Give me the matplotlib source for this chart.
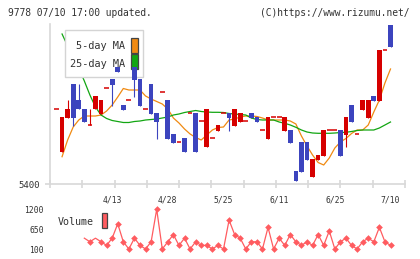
import matplotlib.pyplot as plt
import matplotlib.patches as mpatches
import numpy as np

# daily candles, oldest first (yen)
OPENS = [6150, 5720, 6060, 6400, 6240, 6150, 5990, 6150, 6100, 6360,
         6450, 6570, 6190, 6240, 6570, 6450, 6150, 6400, 6110, 6320,
         6240, 5900, 5820, 5860, 6110, 6110, 6030, 5770, 5860, 5930,
         6110, 6110, 5980, 6020, 6030, 6110, 6070, 5940, 5850, 6070,
         6070, 5930, 5940, 5530, 5820, 5820, 5470, 5640, 5680, 5940,
         5940, 5940, 5890, 6190, 5900, 6140, 6060, 6280, 6230, 6740,
         6990]
HIGHS = [6150, 6070, 6240, 6400, 6400, 6150, 6150, 6280, 6240, 6360,
         6450, 6570, 6190, 6240, 6570, 6450, 6150, 6400, 6110, 6320,
         6240, 5900, 5820, 5860, 6110, 6110, 6030, 6150, 5860, 5990,
         6110, 6110, 6150, 6110, 6030, 6110, 6070, 5940, 6070, 6070,
         6070, 6070, 5940, 5530, 5820, 5820, 5650, 5690, 5940, 5940,
         5940, 5940, 6070, 6190, 5900, 6240, 6240, 6280, 6740, 6740,
         6990]
LOWS = [6150, 5720, 6060, 5980, 6150, 6020, 5990, 6150, 6100, 6360,
        6180, 6520, 6140, 6240, 6270, 6180, 6150, 6100, 5850, 6320,
        5850, 5810, 5820, 5720, 6110, 5720, 6030, 5770, 5860, 5930,
        6110, 5930, 5980, 6020, 6030, 6060, 6020, 5940, 5850, 6070,
        6070, 5930, 5810, 5430, 5520, 5640, 5470, 5640, 5680, 5940,
        5940, 5680, 5770, 6020, 5900, 6140, 6060, 6230, 6230, 6740,
        6770]
CLOSES = [6150, 6070, 6150, 6060, 6150, 6020, 5990, 6280, 6240, 6360,
          6390, 6520, 6140, 6240, 6440, 6180, 6150, 6100, 6020, 6320,
          5850, 5810, 5820, 5720, 6110, 5720, 6030, 6150, 5860, 5990,
          6110, 6060, 6150, 6110, 6030, 6060, 6020, 5940, 6070, 6070,
          6070, 6070, 5810, 5430, 5520, 5640, 5650, 5690, 5940, 5940,
          5940, 5680, 6070, 6020, 5900, 6240, 6240, 6230, 6740, 6740,
          6770]

# moving averages as drawn (from the 2nd candle on)
MA5 = [5673, 5840, 5970, 6040, 6080, 6080, 6080, 6090, 6130, 6190,
       6270, 6355, 6340, 6340, 6340, 6280, 6250, 6225, 6200, 6150,
       6060, 6010, 5950, 5900, 5865, 5840, 5890, 5940, 5965, 5970,
       6040, 6050, 6070, 6080, 6080, 6075, 6060, 6040, 6040, 6040,
       6040, 6030, 6000, 5880, 5780, 5690, 5615, 5590, 5660, 5760,
       5820, 5855, 5905, 5940, 5940, 5990, 6120, 6240, 6410, 6550]
MA25 = [6900, 6780, 6660, 6560, 6430, 6290, 6170, 6090, 6055, 6035,
        6025, 6015, 6015, 6025, 6030, 6040, 6045, 6050, 6060, 6070,
        6090, 6100, 6115, 6125, 6135, 6125, 6120, 6117, 6117, 6115,
        6105, 6100, 6095, 6090, 6060, 6045, 6040, 6040, 6040, 6020,
        6007, 5990, 5967, 5940, 5920, 5910, 5907, 5907, 5907, 5910,
        5915, 5917, 5925, 5935, 5940, 5940, 5940, 5960, 5990, 6020]

# volume (from the 6th candle on)
VOLUME = [400, 300, 400, 300, 200, 400, 800, 300, 100, 400,
          200, 100, 300, 1200, 100, 300, 500, 200, 400, 100,
          300, 200, 200, 100, 200, 100, 900, 500, 400, 100,
          300, 300, 100, 700, 100, 400, 200, 500, 300, 200,
          300, 200, 500, 200, 600, 100, 300, 400, 200, 100,
          300, 400, 300, 700, 300, 200]

DATE_POS = [10, 20, 30, 40, 50, 60]
DATE_LABELS = ["4/13", "4/28", "5/25", "6/11", "6/25", "7/10"]

RED = "#d60000"
BLUE = "#3c44be"
ORANGE = "#f08a12"
GREEN = "#12a612"
VOLC = "#ff5c60"
GRID = "#d8d8d8"
TXT = "#333333"

W, H = 420, 259
STEP = 5.567
plt.rcParams["font.family"] = "DejaVu Sans Mono"

fig = plt.figure(figsize=(W / 100, H / 100), dpi=100)
tf = fig.transFigure


def fpx(x, y):
    return x / W, 1 - y / H


ax = fig.add_axes([50 / W, 75 / H, 355 / W, 160 / H])
xlim = (-6.5 / STEP, 60 + 14.5 / STEP)
ax.set_xlim(xlim)
ax.set_ylim(5400, 7000)

x = np.arange(len(OPENS))
o = np.array(OPENS)
c = np.array(CLOSES)
cols = np.where(c >= o, RED, BLUE)
body = np.abs(c - o)
doji = body == 0

ax.vlines(x, LOWS, HIGHS, colors=cols, lw=0.8, zorder=4)
ax.bar(x[~doji], body[~doji], bottom=np.minimum(o, c)[~doji], width=0.85,
       color=cols[~doji], linewidth=0, zorder=4)
ax.hlines(o[doji], x[doji] - 0.43, x[doji] + 0.43, colors=RED, lw=1.1, zorder=4)

ax.plot(x[1:], MA5, color=ORANGE, lw=0.9, zorder=2)
ax.plot(x[1:], MA25, color=GREEN, lw=0.9, zorder=2)

for s in ["top", "right"]:
    ax.spines[s].set_visible(False)
for s in ["left", "bottom"]:
    ax.spines[s].set_color(GRID)
    ax.spines[s].set_linewidth(1.2)

ax.set_yticks([5400])
ax.tick_params(axis="y", length=3.6, width=1.2, color=GRID, pad=3.5,
               labelsize=6.5, labelcolor=TXT)
ax.set_xticks(DATE_POS, DATE_LABELS)
ax.set_xticks(np.linspace(xlim[0], xlim[1], 12), minor=True)
ax.tick_params(axis="x", which="major", length=0, pad=8, labelsize=5.8,
               labelcolor=TXT)
ax.tick_params(axis="x", which="minor", direction="inout", length=6,
               width=1.2, color=GRID)

# legend box (drawn under the candles, over the lines)
ax.add_patch(mpatches.Rectangle(fpx(65, 77), 78 / W, 46.7 / H, transform=tf,
                                facecolor="white", edgecolor="#d4d4d4",
                                lw=1, zorder=3, clip_on=False))
for label, color, ty, py in [("5-day MA", ORANGE, 46, 52.7),
                             ("25-day MA", GREEN, 63.7, 68.7)]:
    ax.text(*fpx(125, ty), label, transform=tf, ha="right", va="center",
            fontsize=7.4, color=TXT, zorder=3.1)
    ax.add_patch(mpatches.Rectangle(fpx(131, py), 6.7 / W, 15 / H,
                                    transform=tf, facecolor=color,
                                    edgecolor="#444444", lw=0.9,
                                    zorder=3.1, clip_on=False))

# volume panel
vax = fig.add_axes([50 / W, 4 / H, 355 / W, 50 / H])
vax.set_xlim(xlim)
vax.set_ylim(-66, 1319)
xv = x[5:]
marks = [i for i in range(len(VOLUME)) if i not in (0, 2)]
vax.plot(xv, VOLUME, color=VOLC, lw=0.9, marker="D", ms=3.4,
         markevery=marks, markeredgewidth=0)
for s in vax.spines.values():
    s.set_visible(False)
vax.set_xticks([])
vax.set_yticks([100, 650, 1200])
vax.tick_params(axis="y", length=0, pad=4.3, labelsize=5.8, labelcolor=TXT)
fig.text(*fpx(58, 222), "Volume", ha="left", va="center", fontsize=7.2,
         color=TXT)
fig.patches.append(mpatches.Rectangle(fpx(101.7, 228), 5.6 / W, 15 / H,
                                      transform=tf, facecolor=VOLC,
                                      edgecolor="#444444", lw=0.9))

fig.text(*fpx(8, 12.5), "9778 07/10 17:00 updated.", ha="left", va="center",
         fontsize=6.9, color=TXT)
fig.text(*fpx(409, 12.5), "(C)https://www.rizumu.net/", ha="right",
         va="center", fontsize=6.9, color=TXT)

fig.savefig("out.png", dpi=100)
